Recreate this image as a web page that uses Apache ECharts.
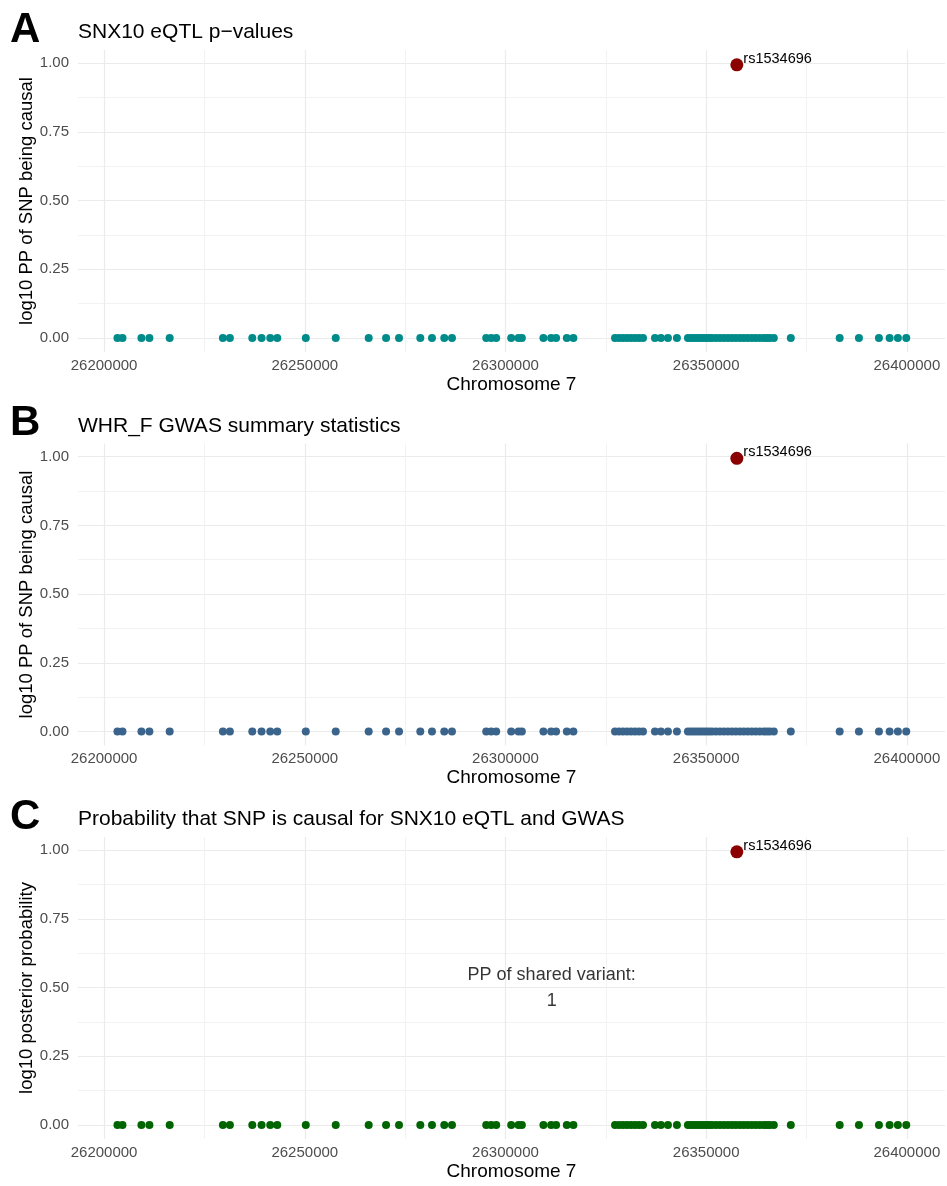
<!DOCTYPE html>
<html>
<head>
<meta charset="utf-8">
<script src="https://cdn.jsdelivr.net/npm/echarts@6/dist/echarts.min.js"></script>
<style>html,body{margin:0;padding:0;background:#fff;}#c{width:947px;height:1186px;}</style>
</head>
<body>
<div id="c"></div>
<script>
// ---- data ----
const panelLetters = ['A', 'B', 'C'];
const panelTitles = ['SNX10 eQTL p\u2212values', 'WHR_F GWAS summary statistics', 'Probability that SNP is causal for SNX10 eQTL and GWAS'];
const yAxisTitles = ['log10 PP of SNP being causal', 'log10 PP of SNP being causal', 'log10 posterior probability'];
const xAxisTitle = 'Chromosome 7';
const xMajorTicks = [26200000, 26250000, 26300000, 26350000, 26400000];
const xMinorTicks = [26225000, 26275000, 26325000, 26375000];
const yMajorTicks = [0, 0.25, 0.5, 0.75, 1.0];
const yMinorTicks = [0.125, 0.375, 0.625, 0.875];

const snpPositions = [
  26203330, 26204580, 26209300, 26211290, 26216340, 26229600, 26231340, 26236920, 26239230, 26241390,
  26243140, 26250250, 26257710, 26265920, 26270250, 26273480, 26278780, 26281690, 26284750, 26286670,
  26295200, 26296440, 26297690, 26301420, 26303240, 26304080, 26309450, 26311370, 26312610, 26315280,
  26316920, 26327290, 26328290, 26329280, 26330280, 26331270, 26332270, 26333260, 26334260, 26337240,
  26338730, 26340480, 26342710, 26345450, 26346200, 26346940, 26347690, 26348440, 26349180, 26349930,
  26350680, 26351420, 26352420, 26353410, 26354410, 26355400, 26356400, 26357390, 26358390, 26359380,
  26360380, 26361370, 26362370, 26363360, 26364360, 26365100, 26365850, 26366850, 26371080, 26383260,
  26388060, 26393040, 26395700, 26397760, 26399850
];
const ppEqtl = [
  0,0,0,0,0,0,0,0,0,0, 0,0,0,0,0,0,0,0,0,0, 0,0,0,0,0,0,0,0,0,0, 0,0,0,0,0,0,0,0,0,0,
  0,0,0,0,0,0,0,0,0,0, 0,0,0,0,0,0,0,0,0,0, 0,0,0,0,0,0,0,0,0,0, 0,0,0,0,0
];
const ppGwas = [
  0,0,0,0,0,0,0,0,0,0, 0,0,0,0,0,0,0,0,0,0, 0,0,0,0,0,0,0,0,0,0, 0,0,0,0,0,0,0,0,0,0,
  0,0,0,0,0,0,0,0,0,0, 0,0,0,0,0,0,0,0,0,0, 0,0,0,0,0,0,0,0,0,0, 0,0,0,0,0
];
const ppShared = [
  0,0,0,0,0,0,0,0,0,0, 0,0,0,0,0,0,0,0,0,0, 0,0,0,0,0,0,0,0,0,0, 0,0,0,0,0,0,0,0,0,0,
  0,0,0,0,0,0,0,0,0,0, 0,0,0,0,0,0,0,0,0,0, 0,0,0,0,0,0,0,0,0,0, 0,0,0,0,0
];
const leadSnpName = 'rs1534696';
const leadSnpPosition = 26357640;
const leadSnpPP = [0.994, 0.994, 0.994];
const sharedAnnotation = { x: 26311500, y: 0.5, text: 'PP of shared variant:\n1' };

// ---- styling / layout ----
const panelValues = [ppEqtl, ppGwas, ppShared];
const pointColors = ['#008B8B', '#3A648C', '#006400'];
const leadColor = '#8B0000';
const FONT = 'Liberation Sans, Arial, sans-serif';
const panelStep = 393.5;
const gridTop0 = 50, gridHeight = 302;
const xMin = 26193500, xMax = 26409500;
const yMin = -0.051, yMax = 1.048;

const grids = [], xAxes = [], yAxes = [], series = [], titles = [];
for (let p = 0; p < 3; p++) {
  const top = gridTop0 + p * panelStep;
  grids.push({ left: 78, right: 2, top: top, height: gridHeight, containLabel: false });
  xAxes.push({
    type: 'value', gridIndex: p, min: xMin, max: xMax,
    name: xAxisTitle, nameLocation: 'middle', nameGap: 23, nameMoveOverlap: false,
    nameTextStyle: { fontFamily: FONT, fontSize: 19, color: '#000' },
    axisLine: { show: false }, axisTick: { show: false, customValues: xMajorTicks },
    axisLabel: { customValues: xMajorTicks, fontFamily: FONT, fontSize: 15, color: '#4D4D4D', margin: 6, formatter: v => String(v) },
    splitLine: { show: true, lineStyle: { color: '#EBEBEB', width: 1.2 } }, z: 1
  });
  xAxes.push({
    type: 'value', gridIndex: p, min: xMin, max: xMax, position: 'top',
    axisLine: { show: false }, axisTick: { show: false, customValues: xMinorTicks },
    axisLabel: { show: false, customValues: xMinorTicks },
    splitLine: { show: true, lineStyle: { color: '#F2F2F2', width: 1 } }, z: 0
  });
  yAxes.push({
    type: 'value', gridIndex: p, min: yMin, max: yMax,
    name: yAxisTitles[p], nameLocation: 'middle', nameGap: 42, nameMoveOverlap: false,
    nameTextStyle: { fontFamily: FONT, fontSize: 18.5, color: '#000' },
    axisLine: { show: false }, axisTick: { show: false, customValues: yMajorTicks },
    axisLabel: { customValues: yMajorTicks, fontFamily: FONT, fontSize: 15, color: '#4D4D4D', margin: 9, formatter: v => v.toFixed(2) },
    splitLine: { show: true, lineStyle: { color: '#EBEBEB', width: 1.2 } }
  });
  yAxes.push({
    type: 'value', gridIndex: p, min: yMin, max: yMax, position: 'right',
    axisLine: { show: false }, axisTick: { show: false, customValues: yMinorTicks },
    axisLabel: { show: false, customValues: yMinorTicks },
    splitLine: { show: true, lineStyle: { color: '#F2F2F2', width: 1 } }
  });
  const xi = p * 2, yi = p * 2;
  series.push({
    type: 'scatter', xAxisIndex: xi, yAxisIndex: yi, symbolSize: 8,
    itemStyle: { color: pointColors[p], opacity: 1 },
    data: snpPositions.map((x, i) => [x, panelValues[p][i]]),
    silent: true, z: 3
  });
  series.push({
    type: 'scatter', xAxisIndex: xi, yAxisIndex: yi, symbolSize: 13,
    itemStyle: { color: leadColor, opacity: 1 },
    label: { show: true, position: 'right', distance: 0, offset: [0, -6], formatter: leadSnpName,
             fontFamily: FONT, fontSize: 14.5, color: '#000' },
    data: [[leadSnpPosition, leadSnpPP[p]]], silent: true, z: 4
  });
  titles.push({ text: panelLetters[p], left: 5, top: 4 + p * panelStep,
    textStyle: { fontFamily: FONT, fontWeight: 'bold', fontSize: 42, color: '#000' } });
  titles.push({ text: panelTitles[p], left: 73, top: 17 + p * panelStep,
    textStyle: { fontFamily: FONT, fontWeight: 'normal', fontSize: 21, color: '#000' } });
}
// annotation in panel C
series.push({
  type: 'scatter', xAxisIndex: 4, yAxisIndex: 4, symbolSize: 1,
  itemStyle: { color: 'rgba(0,0,0,0)' },
  label: { show: true, position: 'inside', formatter: sharedAnnotation.text, fontFamily: FONT,
           fontSize: 18, lineHeight: 26, color: '#000', align: 'center', verticalAlign: 'middle' },
  data: [[sharedAnnotation.x, sharedAnnotation.y]], silent: true, z: 5
});

const chart = echarts.init(document.getElementById('c'), null, { renderer: 'canvas' });
chart.setOption({
  animation: false,
  backgroundColor: '#fff',
  title: titles,
  grid: grids,
  xAxis: xAxes,
  yAxis: yAxes,
  series: series
});
</script>
</body>
</html>
